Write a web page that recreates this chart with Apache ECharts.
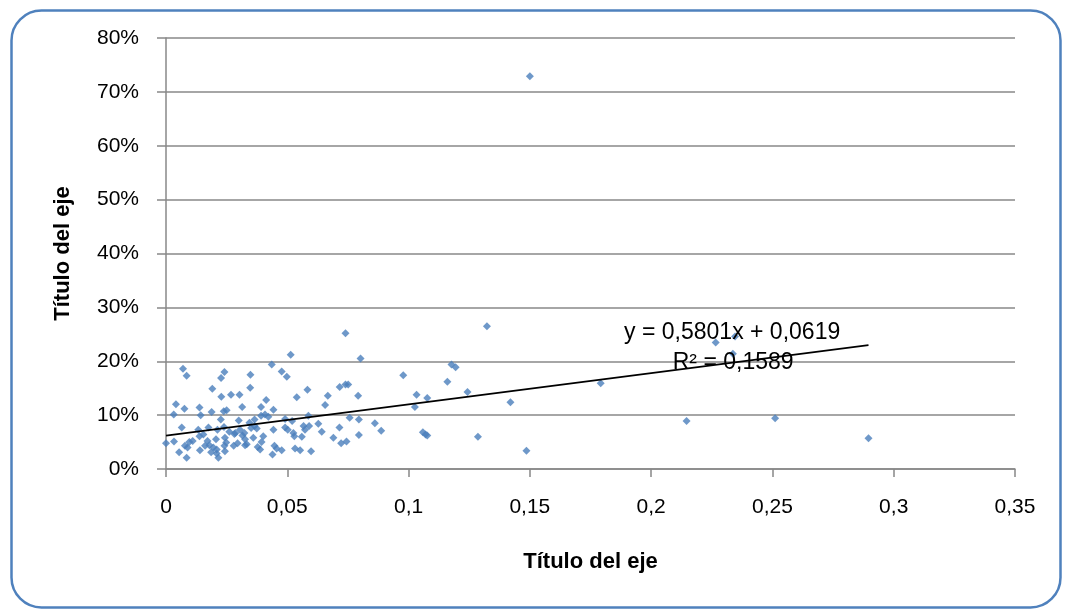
<!DOCTYPE html>
<html>
<head>
<meta charset="utf-8">
<script src="https://cdn.jsdelivr.net/npm/echarts@6/dist/echarts.min.js"></script>
<style>
  html, body { margin: 0; padding: 0; background: #ffffff; }
  #chart { width: 1068px; height: 610px; }
</style>
</head>
<body>
<div id="chart"></div>
<script>
// Observations: x value and matching y share (fraction, shown as %)
const xValues = [
  0.0514, 0.0436, 0.0070, 0.0085, 0.0241, 0.0227, 0.0477, 0.0498, 0.0348, 0.0347,
  0.0191, 0.0583, 0.0667, 0.0539, 0.0268, 0.0303, 0.0228, 0.0413, 0.0041, 0.0076,
  0.0138, 0.0314, 0.0392, 0.0443, 0.0656, 0.0032, 0.0143, 0.0188, 0.0238, 0.0250,
  0.0392, 0.0408, 0.0422, 0.0300, 0.0344, 0.0365, 0.0226, 0.0491, 0.0587, 0.0520,
  0.0567, 0.0590, 0.0628, 0.0642, 0.0065, 0.0133, 0.0175, 0.0212, 0.0239, 0.0261,
  0.0286, 0.0305, 0.0323, 0.0351, 0.0374, 0.0365, 0.0443, 0.0491, 0.0502, 0.0525,
  0.0529, 0.0560, 0.0573, 0.0000, 0.0033, 0.0096, 0.0110, 0.0138, 0.0154, 0.0171,
  0.0206, 0.0243, 0.0248, 0.0282, 0.0315, 0.0326, 0.0333, 0.0360, 0.0401, 0.0394,
  0.0078, 0.0089, 0.0140, 0.0161, 0.0179, 0.0195, 0.0209, 0.0241, 0.0279, 0.0295,
  0.0326, 0.0378, 0.0388, 0.0447, 0.0456, 0.0477, 0.0532, 0.0553, 0.0054, 0.0085,
  0.0186, 0.0209, 0.0216, 0.0243, 0.0439, 0.0598, 0.0690,
  0.0740, 0.1323, 0.0802, 0.1177, 0.1194, 0.0978, 0.0716, 0.0740, 0.0751, 0.1160,
  0.0792, 0.1243, 0.1033, 0.1077, 0.1026, 0.1420, 0.0757, 0.0795, 0.0715, 0.0861,
  0.0887, 0.0722, 0.0744, 0.0795, 0.1059, 0.1070, 0.1077, 0.1286,
  0.1486, 0.1792, 0.2146, 0.2266, 0.2346, 0.2337, 0.2511, 0.2896, 0.1500
];
const yValues = [
  0.212, 0.194, 0.186, 0.173, 0.180, 0.169, 0.181, 0.171, 0.175, 0.151,
  0.149, 0.147, 0.136, 0.133, 0.138, 0.138, 0.134, 0.128, 0.120, 0.112,
  0.114, 0.115, 0.115, 0.110, 0.119, 0.101, 0.100, 0.106, 0.107, 0.109,
  0.099, 0.101, 0.097, 0.090, 0.086, 0.092, 0.092, 0.093, 0.099, 0.089,
  0.080, 0.080, 0.084, 0.069, 0.077, 0.073, 0.077, 0.073, 0.078, 0.069,
  0.067, 0.073, 0.067, 0.076, 0.075, 0.080, 0.073, 0.077, 0.073, 0.067,
  0.061, 0.060, 0.073, 0.048, 0.051, 0.050, 0.052, 0.061, 0.064, 0.052,
  0.055, 0.058, 0.049, 0.065, 0.062, 0.055, 0.046, 0.058, 0.061, 0.050,
  0.043, 0.040, 0.035, 0.043, 0.044, 0.040, 0.036, 0.043, 0.043, 0.048,
  0.044, 0.041, 0.036, 0.043, 0.038, 0.035, 0.038, 0.035, 0.031, 0.021,
  0.031, 0.029, 0.021, 0.033, 0.027, 0.033, 0.058,
  0.252, 0.265, 0.205, 0.194, 0.189, 0.174, 0.152, 0.157, 0.157, 0.162,
  0.136, 0.143, 0.138, 0.132, 0.115, 0.124, 0.095, 0.092, 0.077, 0.085,
  0.071, 0.048, 0.051, 0.063, 0.068, 0.064, 0.062, 0.060,
  0.034, 0.159, 0.089, 0.235, 0.246, 0.214, 0.094, 0.057, 0.729
];

// Linear trend fitted to the observations
const trendSlope = 0.5801;
const trendIntercept = 0.0619;
const rSquared = 0.1589;

// Axis settings (tick labels are generated from these)
const xAxisRange = [0, 0.35];
const xAxisStep = 0.05;
const yAxisRange = [0, 0.8];
const yAxisStep = 0.1;
const axisTitle = 'Título del eje';

const fmtDecimal = (v, digits) => String(+v.toFixed(digits)).replace('.', ',');

const points = xValues.map((x, i) => [x, yValues[i]]);
const xMax = Math.max(...xValues);
const trendPoints = [
  [0, trendIntercept],
  [xMax, trendSlope * xMax + trendIntercept]
];

const labelFont = "'Liberation Sans', Arial, sans-serif";
const gridColor = '#888888';

const chart = echarts.init(document.getElementById('chart'), null, { renderer: 'canvas' });

chart.setOption({
  backgroundColor: '#ffffff',
  animation: false,
  grid: { left: 166, right: 53, top: 38, bottom: 141 },
  xAxis: {
    type: 'value',
    min: xAxisRange[0], max: xAxisRange[1], interval: xAxisStep,
    name: axisTitle,
    nameLocation: 'middle',
    nameGap: 82,
    nameTextStyle: { fontFamily: labelFont, fontWeight: 'bold', fontSize: 22, color: '#000' },
    axisLine: { show: true, lineStyle: { color: gridColor, width: 1.5 } },
    axisTick: { show: true, length: 8, lineStyle: { color: gridColor, width: 1.5 } },
    splitLine: { show: false },
    axisLabel: {
      margin: 28, fontFamily: labelFont, fontSize: 21, color: '#000',
      formatter: v => fmtDecimal(v, 2)
    }
  },
  yAxis: {
    type: 'value',
    min: yAxisRange[0], max: yAxisRange[1], interval: yAxisStep,
    name: axisTitle,
    nameLocation: 'middle',
    nameGap: 92,
    nameRotate: 90,
    nameTextStyle: { fontFamily: labelFont, fontWeight: 'bold', fontSize: 22, color: '#000' },
    axisLine: { show: true, lineStyle: { color: gridColor, width: 1.5 } },
    axisTick: { show: true, length: 9, lineStyle: { color: gridColor, width: 1.5 } },
    splitLine: { show: true, lineStyle: { color: gridColor, width: 1.5 } },
    axisLabel: {
      margin: 27, fontFamily: labelFont, fontSize: 21, color: '#000',
      formatter: v => Math.round(v * 100) + '%'
    }
  },
  series: [
    {
      type: 'scatter',
      data: points,
      symbol: 'diamond',
      symbolSize: 8,
      itemStyle: { color: '#4a7ebb' },
      z: 2
    },
    {
      type: 'line',
      data: trendPoints,
      symbol: 'none',
      lineStyle: { color: '#000000', width: 1.6 },
      z: 3
    }
  ]
});

// Trendline equation and R² placed near the end of the line
const eqPos = chart.convertToPixel({ gridIndex: 0 }, [0.2334, 0.254]);
const r2Pos = chart.convertToPixel({ gridIndex: 0 }, [0.2338, 0.1967]);

chart.setOption({
  graphic: [
    {
      type: 'rect',
      left: 9, top: 8, z: 100, silent: true,
      shape: { width: 1049, height: 597, r: 30 },
      style: { fill: 'none', stroke: '#4f81bd', lineWidth: 2.5 }
    },
    {
      type: 'text', x: eqPos[0], y: eqPos[1], z: 50,
      style: {
        text: 'y = ' + fmtDecimal(trendSlope, 4) + 'x + ' + fmtDecimal(trendIntercept, 4),
        fontFamily: labelFont, fontSize: 23, fill: '#000',
        align: 'center', verticalAlign: 'middle'
      }
    },
    {
      type: 'text', x: r2Pos[0], y: r2Pos[1], z: 50,
      style: {
        text: 'R² = ' + fmtDecimal(rSquared, 4),
        fontFamily: labelFont, fontSize: 23, fill: '#000',
        align: 'center', verticalAlign: 'middle'
      }
    }
  ]
});
</script>
</body>
</html>
